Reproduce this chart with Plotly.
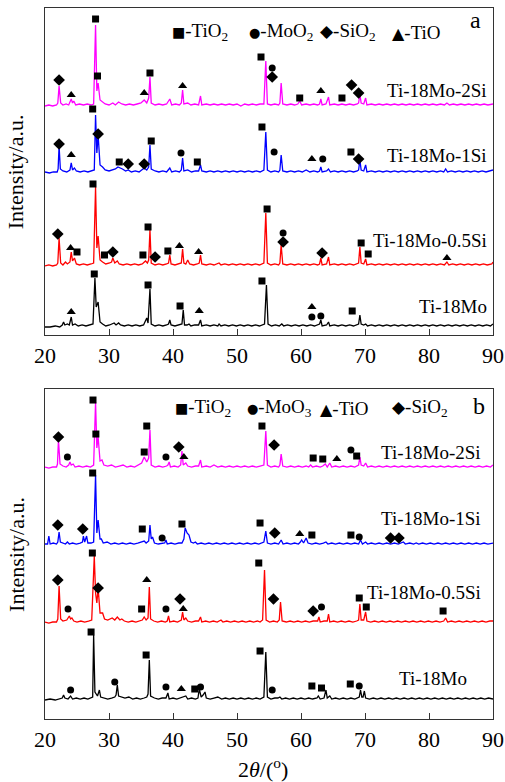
import plotly.graph_objects as go

# ---------------- data: XRD patterns (2theta, intensity a.u. above own baseline) ----------------
A_2SI = [(20.0,0),(20.6,1),(21.2,0),(21.8,1),(22.0,3),(22.2,20),(22.45,3),(22.8,1),(23.3,2),(23.7,1),(24.1,7),(24.3,3),(24.5,5),(24.8,1),(25.4,2),(26.0,1),(26.6,2),(27.2,1),(27.6,2),(27.9,81),(28.1,15),(28.3,23),(28.6,6),(29.0,4),(29.4,2),(30.0,1),(30.6,3),(31.0,1),(31.5,4),(32.0,2),(32.6,1),(33.2,2),(33.8,1),(34.4,2),(35.0,3),(35.5,6),(35.9,3),(36.2,8),(36.4,29),(36.6,3),(37.2,1),(37.8,2),(38.4,1),(39.0,2),(39.5,7),(39.8,1),(40.4,2),(41.0,1),(41.3,3),(41.5,16),(41.7,2),(42.3,3),(42.8,1),(43.4,2),(44.0,1),(44.3,10),(44.5,1),(45.2,2),(45.8,1),(46.4,2),(47.0,1),(47.6,2),(48.2,1),(48.8,2),(49.4,1),(50.0,2),(50.6,0),(51.2,2),(51.8,1),(52.4,2),(53.0,1),(53.6,2),(54.2,2),(54.5,45),(54.75,2),(55.3,1),(55.9,2),(56.5,1),(56.7,3),(56.9,23),(57.15,2),(57.8,1),(58.4,2),(59.0,1),(59.5,2),(59.8,5),(60.1,1),(60.8,2),(61.4,1),(62.0,2),(62.6,1),(62.9,2),(63.1,7),(63.3,1),(63.9,2),(64.3,9),(64.5,1),(65.2,2),(65.8,1),(66.4,2),(67.0,1),(67.6,2),(68.2,1),(68.8,2),(69.0,3),(69.2,12),(69.4,3),(69.8,2),(70.1,8),(70.3,1),(71.0,2),(71.6,1),(72.2,2),(72.8,1),(73.4,2),(74.0,1),(74.6,2),(75.2,1),(75.8,2),(76.4,1),(77.0,2),(77.6,1),(78.2,2),(78.8,1),(79.4,2),(80.0,1),(80.6,2),(81.2,1),(81.8,2),(82.4,1),(82.8,3),(83.2,1),(83.8,2),(84.4,1),(85.0,2),(85.6,1),(86.2,2),(86.8,1),(87.4,2),(88.0,1),(88.6,2),(89.2,1),(90.0,2)]

A_1SI = [(20.0,1),(20.7,0),(21.3,1),(21.9,1),(22.05,4),(22.2,27),(22.4,4),(22.8,2),(23.4,1),(23.9,3),(24.1,10),(24.3,3),(24.6,5),(24.9,2),(25.5,1),(26.1,2),(26.7,1),(27.3,2),(27.7,3),(27.9,58),(28.1,20),(28.3,38),(28.6,8),(29.0,6),(29.4,3),(30.0,2),(30.6,3),(31.0,4),(31.4,6),(31.8,5),(32.1,4),(32.6,2),(33.0,3),(33.5,1),(34.1,2),(34.7,1),(35.2,3),(35.5,5),(35.9,3),(36.2,6),(36.4,28),(36.6,4),(37.2,2),(37.8,1),(38.4,2),(39.0,1),(39.5,5),(39.8,1),(40.4,2),(41.0,1),(41.3,3),(41.5,15),(41.7,2),(42.3,3),(42.9,1),(43.5,2),(44.0,2),(44.3,8),(44.5,2),(45.2,1),(45.8,2),(46.4,1),(47.0,2),(47.6,1),(48.2,2),(48.8,1),(49.4,2),(50.0,1),(50.6,2),(51.2,1),(51.8,2),(52.4,1),(53.0,2),(53.6,1),(54.2,3),(54.5,41),(54.75,3),(55.3,1),(55.9,2),(56.5,1),(56.7,3),(56.9,18),(57.15,2),(57.8,1),(58.4,2),(59.0,1),(59.6,2),(60.2,1),(60.8,3),(61.4,1),(62.0,2),(62.6,1),(62.9,2),(63.1,6),(63.3,1),(64.0,2),(64.3,4),(64.6,1),(65.2,2),(65.8,1),(66.4,2),(67.0,1),(67.6,2),(68.2,1),(68.8,2),(69.0,3),(69.2,13),(69.4,3),(69.8,2),(70.1,8),(70.3,1),(71.0,2),(71.6,1),(72.2,2),(72.8,1),(73.4,2),(74.0,1),(74.6,2),(75.2,1),(75.8,2),(76.4,1),(77.0,2),(77.6,1),(78.2,2),(78.8,1),(79.4,2),(80.0,1),(80.6,2),(81.2,1),(81.8,2),(82.3,1),(82.6,4),(82.9,1),(83.5,2),(84.1,1),(84.7,2),(85.3,1),(85.9,2),(86.5,1),(87.1,2),(87.7,1),(88.3,2),(88.9,1),(89.5,2),(90.0,3)]

A_05SI = [(20.0,0),(20.6,1),(21.2,0),(21.8,1),(22.0,3),(22.2,28),(22.45,3),(22.8,1),(23.2,4),(23.5,2),(23.9,4),(24.1,14),(24.3,5),(24.6,8),(24.9,2),(25.4,1),(26.0,2),(26.6,1),(27.2,2),(27.6,3),(27.9,79),(28.1,18),(28.3,30),(28.6,6),(29.0,4),(29.5,2),(30.1,3),(30.4,4),(30.6,8),(30.9,3),(31.3,5),(31.6,2),(32.2,1),(32.8,2),(33.4,1),(34.0,2),(34.6,1),(35.2,2),(35.7,5),(36.0,3),(36.2,6),(36.4,36),(36.6,3),(37.2,1),(37.8,2),(38.4,1),(39.0,2),(39.3,3),(39.5,11),(39.7,2),(40.3,1),(40.9,2),(41.3,3),(41.5,17),(41.7,3),(42.0,2),(42.3,6),(42.6,2),(43.2,1),(43.8,2),(44.1,3),(44.3,11),(44.5,2),(45.2,1),(45.8,2),(46.4,1),(47.0,2),(47.2,3),(47.5,1),(48.1,2),(48.7,1),(49.3,2),(49.9,1),(50.5,2),(51.1,1),(51.7,2),(52.3,1),(52.9,2),(53.5,1),(54.2,3),(54.5,53),(54.75,3),(55.3,1),(55.9,2),(56.5,1),(56.7,3),(56.9,21),(57.15,2),(57.8,1),(58.4,2),(59.0,1),(59.6,2),(60.2,1),(60.8,2),(61.4,1),(62.0,2),(62.6,1),(62.9,2),(63.1,8),(63.3,1),(64.0,2),(64.3,9),(64.5,1),(65.2,2),(65.8,1),(66.4,2),(67.0,1),(67.6,2),(68.2,1),(68.8,2),(69.0,3),(69.2,19),(69.4,3),(69.8,2),(70.1,7),(70.3,1),(71.0,2),(71.6,1),(72.2,2),(72.8,1),(73.4,2),(74.0,1),(74.6,2),(75.2,1),(75.8,2),(76.4,1),(77.0,2),(77.6,1),(78.2,2),(78.8,1),(79.4,2),(80.0,1),(80.6,2),(81.2,1),(81.8,2),(82.4,1),(82.8,4),(83.1,1),(83.7,2),(84.3,1),(84.9,2),(85.5,1),(86.1,2),(86.7,1),(87.3,2),(87.9,1),(88.5,2),(89.1,1),(89.8,2),(90.0,4)]

A_0SI = [(20.0,0),(20.8,0),(21.6,1),(22.3,0),(22.7,2),(22.9,5),(23.1,2),(23.5,3),(23.8,2),(24.1,10),(24.3,2),(24.7,3),(25.2,1),(25.8,2),(26.4,1),(27.0,2),(27.5,3),(27.8,49),(28.0,20),(28.3,25),(28.6,5),(29.0,3),(29.5,1),(30.1,2),(30.6,3),(30.8,4),(31.1,2),(31.5,4),(31.8,2),(32.4,1),(33.0,2),(33.6,1),(34.2,2),(34.8,1),(35.4,2),(35.9,9),(36.1,4),(36.4,38),(36.6,3),(37.2,1),(37.8,2),(38.4,1),(39.0,2),(39.3,3),(39.5,7),(39.7,2),(40.3,1),(40.9,2),(41.4,3),(41.6,17),(41.8,2),(42.2,2),(42.5,3),(42.8,1),(43.4,2),(44.0,2),(44.3,7),(44.5,1),(45.2,2),(45.8,1),(46.4,2),(47.0,1),(47.2,3),(47.5,1),(48.1,2),(48.7,1),(49.3,2),(49.9,1),(50.5,2),(51.1,1),(51.7,2),(52.3,1),(52.9,2),(53.5,1),(54.3,3),(54.6,42),(54.85,3),(55.4,1),(56.0,2),(56.6,1),(57.0,3),(57.3,1),(57.9,2),(58.5,1),(59.1,2),(59.7,1),(60.3,2),(60.9,1),(61.5,2),(62.1,1),(62.7,2),(62.9,3),(63.1,7),(63.3,1),(64.0,2),(64.3,5),(64.5,1),(65.2,2),(65.8,1),(66.4,2),(67.0,1),(67.6,2),(68.2,1),(68.8,2),(69.0,3),(69.2,12),(69.4,3),(69.8,2),(70.1,3),(70.4,1),(71.0,2),(71.6,1),(72.2,2),(72.8,1),(73.4,2),(74.0,1),(74.6,2),(75.2,1),(75.8,2),(76.4,1),(77.0,2),(77.6,1),(78.2,2),(78.8,1),(79.4,2),(80.0,1),(80.6,2),(81.2,1),(81.8,2),(82.4,1),(83.0,2),(83.6,1),(84.2,2),(84.8,1),(85.4,2),(86.0,1),(86.6,2),(87.2,1),(87.8,2),(88.4,1),(89.0,2),(89.6,1),(90.0,3)]

B_2SI = [(20.0,1),(20.6,0),(21.2,1),(21.8,1),(21.95,4),(22.1,28),(22.35,4),(22.8,2),(23.3,1),(23.7,3),(23.9,6),(24.1,3),(24.4,4),(24.7,1),(25.3,2),(25.9,1),(26.5,2),(27.1,1),(27.6,3),(27.9,66),(28.1,20),(28.3,31),(28.6,7),(28.9,8),(29.2,3),(29.8,2),(30.4,3),(31.0,1),(31.6,2),(32.2,3),(32.8,1),(33.4,2),(34.0,1),(34.6,3),(35.1,5),(35.5,11),(35.9,6),(36.2,10),(36.4,38),(36.6,3),(37.2,1),(37.8,2),(38.4,1),(39.0,2),(39.2,3),(39.4,6),(39.6,1),(40.2,2),(40.8,1),(41.2,3),(41.4,17),(41.6,3),(42.0,5),(42.3,2),(42.9,1),(43.5,2),(44.0,2),(44.3,8),(44.5,1),(45.2,2),(45.8,1),(46.4,3),(47.0,1),(47.6,2),(48.2,1),(48.8,2),(49.4,1),(50.0,2),(50.6,1),(51.2,2),(51.8,1),(52.4,2),(53.0,1),(53.6,2),(54.2,3),(54.5,37),(54.75,3),(55.3,1),(55.9,2),(56.5,1),(56.7,3),(56.9,14),(57.15,2),(57.8,1),(58.4,2),(59.0,1),(59.6,2),(60.2,1),(60.8,2),(61.2,1),(61.5,3),(61.8,1),(62.4,2),(63.0,1),(63.4,2),(63.8,4),(64.1,1),(64.5,5),(64.8,1),(65.4,2),(66.0,1),(66.6,2),(67.2,1),(67.8,2),(68.4,1),(69.0,3),(69.2,11),(69.4,3),(69.8,2),(70.1,5),(70.4,1),(71.0,2),(71.6,1),(72.2,2),(72.8,1),(73.4,2),(74.0,1),(74.6,2),(75.2,1),(75.8,2),(76.4,1),(77.0,2),(77.6,1),(78.2,2),(78.8,1),(79.4,2),(80.0,1),(80.6,2),(81.2,1),(81.8,2),(82.4,1),(83.0,2),(83.6,1),(84.2,2),(84.8,1),(85.4,2),(86.0,1),(86.6,2),(87.2,1),(87.8,2),(88.4,1),(89.0,2),(89.6,1),(90.0,3)]

B_1SI = [(20.0,1),(20.4,1),(20.6,9),(20.8,1),(21.3,2),(21.8,1),(22.0,3),(22.2,13),(22.4,3),(22.8,2),(23.2,1),(23.5,3),(23.8,1),(24.3,2),(24.9,1),(25.5,2),(25.85,3),(26.0,9),(26.2,3),(26.5,9),(26.7,2),(27.2,2),(27.6,3),(27.9,70),(28.1,12),(28.3,25),(28.6,6),(28.8,6),(29.1,2),(29.7,3),(30.3,1),(30.9,2),(31.5,1),(32.1,2),(32.7,1),(33.3,2),(33.9,1),(34.5,2),(35.1,3),(35.5,4),(35.8,2),(36.2,4),(36.4,20),(36.6,6),(36.8,8),(37.1,2),(37.7,1),(38.3,2),(38.7,2),(38.9,5),(39.1,1),(39.7,2),(40.3,1),(40.9,2),(41.4,2),(41.7,6),(41.9,17),(42.2,12),(42.5,10),(42.8,3),(43.2,2),(43.5,3),(43.8,1),(44.4,2),(45.0,1),(45.6,2),(46.2,1),(46.8,2),(47.4,1),(48.0,2),(48.6,1),(49.2,2),(49.8,1),(50.4,2),(51.0,1),(51.6,2),(52.2,1),(52.8,2),(53.4,1),(54.2,3),(54.5,14),(54.75,2),(55.3,1),(55.9,2),(56.5,1),(56.9,5),(57.2,1),(57.8,2),(58.4,1),(59.0,2),(59.6,1),(59.9,3),(60.1,5),(60.4,2),(60.8,7),(61.1,2),(61.7,1),(62.3,2),(62.9,1),(63.5,2),(63.9,3),(64.2,1),(64.8,2),(65.4,1),(66.0,2),(66.6,1),(67.2,2),(67.8,1),(68.4,2),(69.0,1),(69.3,5),(69.6,1),(70.1,3),(70.4,1),(71.0,2),(71.6,1),(72.2,2),(72.8,1),(73.4,2),(74.0,1),(74.6,2),(75.2,1),(75.8,2),(76.0,3),(76.3,1),(77.0,2),(77.6,1),(78.0,2),(78.4,1),(79.0,2),(79.6,1),(80.2,2),(80.8,1),(81.4,2),(82.0,1),(82.6,2),(83.2,1),(83.8,2),(84.4,1),(85.0,2),(85.6,1),(86.2,2),(86.8,1),(87.4,2),(88.0,1),(88.6,2),(89.2,1),(90.0,2)]

B_05SI = [(20.0,1),(20.6,0),(21.2,1),(21.8,1),(22.0,4),(22.2,37),(22.45,4),(22.8,2),(23.4,3),(23.8,7),(24.0,4),(24.2,5),(24.5,2),(25.0,1),(25.6,2),(26.2,1),(26.8,2),(27.3,3),(27.7,67),(27.9,30),(28.1,20),(28.3,35),(28.6,10),(29.0,10),(29.3,4),(29.8,3),(30.5,5),(30.9,3),(31.3,6),(31.7,3),(32.0,4),(32.4,2),(33.0,1),(33.6,2),(34.2,1),(34.8,2),(35.2,3),(35.5,6),(35.8,3),(36.1,5),(36.3,36),(36.5,4),(37.0,2),(37.6,1),(38.2,2),(38.8,1),(39.1,2),(39.3,7),(39.5,1),(40.1,2),(40.7,1),(41.3,3),(41.5,11),(41.7,3),(42.0,5),(42.3,2),(42.9,1),(43.5,2),(44.0,2),(44.3,6),(44.5,1),(45.1,2),(45.7,1),(46.3,2),(46.9,1),(47.5,3),(47.8,1),(48.4,2),(49.0,1),(49.6,2),(50.2,1),(50.8,2),(51.4,1),(52.0,2),(52.6,1),(53.2,2),(53.6,1),(54.0,3),(54.3,53),(54.55,3),(55.1,1),(55.7,2),(56.3,1),(56.6,3),(56.8,21),(57.05,2),(57.7,1),(58.3,2),(58.9,1),(59.5,2),(60.1,1),(60.7,2),(61.3,1),(61.9,2),(62.6,2),(62.8,6),(63.0,1),(63.6,2),(64.1,2),(64.3,9),(64.5,1),(65.1,2),(65.7,1),(66.3,2),(66.9,1),(67.5,2),(68.1,1),(68.7,2),(69.0,3),(69.2,19),(69.4,3),(69.8,3),(70.1,11),(70.3,2),(70.9,1),(71.5,2),(72.1,1),(72.7,2),(73.3,1),(73.9,2),(74.5,1),(75.1,2),(75.7,1),(76.3,2),(76.9,1),(77.5,2),(78.1,1),(78.7,2),(79.3,1),(79.9,2),(80.5,1),(81.1,2),(81.7,1),(82.3,2),(82.6,5),(82.9,1),(83.5,2),(84.1,1),(84.7,2),(85.3,1),(85.9,2),(86.5,1),(87.1,2),(87.7,1),(88.3,2),(88.9,1),(89.5,2),(90.0,2)]

B_0SI = [(20.0,0),(20.8,1),(21.6,0),(22.3,1),(22.7,2),(22.9,5),(23.1,2),(23.6,1),(24.0,4),(24.3,1),(24.9,2),(25.5,1),(26.1,2),(26.7,1),(27.3,2),(27.45,3),(27.6,65),(27.8,8),(28.2,4),(28.5,10),(28.7,3),(29.2,2),(29.8,1),(30.4,2),(30.9,3),(31.1,5),(31.3,15),(31.5,4),(31.9,3),(32.5,2),(33.1,3),(33.7,1),(34.3,2),(34.9,1),(35.5,2),(35.9,3),(36.1,6),(36.3,40),(36.5,4),(37.1,2),(37.7,1),(38.3,2),(38.9,2),(39.2,7),(39.4,1),(40.0,2),(40.6,1),(41.2,2),(41.7,3),(42.0,4),(42.3,1),(42.9,2),(43.5,1),(43.9,2),(44.1,11),(44.4,3),(44.7,5),(45.0,8),(45.2,2),(45.8,1),(46.4,2),(47.0,3),(47.6,1),(48.2,2),(48.8,1),(49.4,2),(50.0,1),(50.6,2),(51.2,1),(51.8,2),(52.4,1),(53.0,2),(53.6,1),(54.2,3),(54.5,48),(54.75,3),(55.3,1),(55.9,2),(56.4,2),(56.7,3),(57.0,1),(57.6,2),(58.2,1),(58.8,2),(59.4,1),(60.0,2),(60.6,1),(61.2,2),(61.8,1),(62.5,2),(62.7,4),(63.0,1),(63.6,2),(63.9,10),(64.1,2),(64.5,4),(64.8,1),(65.4,2),(66.0,1),(66.6,2),(67.2,1),(67.8,2),(68.4,1),(69.1,3),(69.3,10),(69.5,3),(69.7,3),(69.9,9),(70.1,2),(70.7,1),(71.3,2),(71.9,1),(72.5,2),(73.1,1),(73.7,2),(74.3,1),(74.9,2),(75.5,1),(76.1,2),(76.7,1),(77.3,2),(77.9,1),(78.5,2),(79.1,1),(79.7,2),(80.3,1),(80.9,2),(81.5,1),(82.1,2),(82.7,1),(83.3,2),(83.9,1),(84.5,2),(85.1,1),(85.7,2),(86.3,1),(86.9,2),(87.5,1),(88.1,2),(88.7,1),(89.3,2),(90.0,1)]

# ---------------- data: phase markers (2theta, height above own baseline) ----------------
A_MARKS = {
    "Ti-18Mo-2Si": {"TiO2": [(27.9,87),(28.2,30),(36.4,33),(53.75,49),(59.8,8),(66.4,8)],
                    "MoO2": [(55.5,38)],
                    "SiO2": [(22.2,26),(55.5,29),(67.9,21),(69.0,13)],
                    "TiO":  [(24.1,11),(35.5,13),(41.5,20),(63.1,15)]},
    "Ti-18Mo-1Si": {"TiO2": [(27.45,64),(31.6,11),(36.6,32),(43.8,11),(53.9,46),(67.8,21)],
                    "MoO2": [(41.25,20),(55.8,21),(63.4,14)],
                    "SiO2": [(22.2,29),(28.3,39),(33.0,9),(35.5,9),(69.0,14)],
                    "TiO":  [(24.1,18),(61.7,14)]},
    "Ti-18Mo-0.5Si": {"TiO2": [(27.5,82),(25.0,14),(29.3,11),(35.3,11),(36.1,39),(39.2,15),(54.7,57),(69.4,23),(70.5,12)],
                      "MoO2": [(57.2,33)],
                      "SiO2": [(22.0,32),(30.6,14),(37.2,9),(57.2,24),(63.3,13)],
                      "TiO":  [(24.0,18),(41.0,20),(44.0,14),(82.8,8)]},
    "Ti-18Mo": {"TiO2": [(27.7,53),(36.1,42),(41.1,21),(53.9,46),(68.0,16)],
                "MoO2": [(61.7,10),(63.1,11)],
                "SiO2": [],
                "TiO":  [(24.1,15),(44.1,16),(61.7,20)]},
}
B_MARKS = {
    "Ti-18Mo-2Si": {"TiO2": [(27.5,68),(27.95,34),(35.5,16),(35.9,42),(53.9,42),(61.9,10),(63.4,9),(68.7,12)],
                    "MoO3": [(23.5,11),(38.9,11),(67.8,18)],
                    "TiO":  [(41.7,11),(65.6,9)],
                    "SiO2": [(22.1,31),(40.9,21),(55.8,23)]},
    "Ti-18Mo-1Si": {"TiO2": [(27.45,72),(35.2,16),(41.4,21),(53.6,22),(61.7,10),(67.8,10)],
                    "MoO3": [(38.3,7),(69.1,8)],
                    "TiO":  [(59.8,11)],
                    "SiO2": [(22.0,20),(25.9,16),(55.9,12),(74.0,7),(75.3,7)]},
    "Ti-18Mo-0.5Si": {"TiO2": [(27.4,70),(35.1,14),(53.4,60),(69.1,25),(70.2,16),(82.2,12)],
                      "MoO3": [(23.6,14),(38.9,14),(63.2,16)],
                      "TiO":  [(35.9,43),(41.6,14)],
                      "SiO2": [(22.0,43),(28.3,35),(41.1,24),(55.7,24),(61.9,12)]},
    "Ti-18Mo": {"TiO2": [(27.2,68),(35.8,45),(43.4,11),(53.6,49),(61.7,14),(63.2,12),(67.7,16)],
                "MoO3": [(24.0,10),(30.9,18),(38.9,13),(44.3,13),(55.5,10),(69.1,14)],
                "TiO":  [(41.3,11)],
                "SiO2": []},
}

SAMPLES = ["Ti-18Mo-2Si", "Ti-18Mo-1Si", "Ti-18Mo-0.5Si", "Ti-18Mo"]
A_SERIES = [A_2SI, A_1SI, A_05SI, A_0SI]
B_SERIES = [B_2SI, B_1SI, B_05SI, B_0SI]
X_TICKS = [20, 30, 40, 50, 60, 70, 80, 90]
A_LEGEND = [("■", "TiO<sub>2</sub>"), ("●", "MoO<sub>2</sub>"), ("◆", "SiO<sub>2</sub>"), ("▲", "TiO")]
B_LEGEND = [("■", "TiO<sub>2</sub>"), ("●", "MoO<sub>3</sub>"), ("▲", "TiO"), ("◆", "SiO<sub>2</sub>")]

# ---------------- styles / positions ----------------
COLORS = ["#FF00FF", "#0000FF", "#FF0000", "#000000"]
A_OFFSETS = [229, 162, 69, 8]
B_OFFSETS = [251, 174, 96, 19]
SYMBOLS = {"TiO2": ("square", 7), "MoO2": ("circle", 7), "MoO3": ("circle", 7),
           "SiO2": ("diamond", 9), "TiO": ("triangle-up", 8)}
GLYPH_SIZE = {"■": 14, "●": 13, "◆": 17, "▲": 16}
A_LEGEND_X = [39.5, 51.6, 62.6, 73.9]
B_LEGEND_X = [40.0, 51.3, 62.7, 73.9]
FONT = "Liberation Serif, Times New Roman, serif"

fig = go.Figure()

def add_panel(series, marks, offsets, xa, ya):
    for name, data, off, col in zip(SAMPLES, series, offsets, COLORS):
        fig.add_trace(go.Scatter(x=[p[0] for p in data], y=[p[1] + off for p in data],
                                 mode="lines", line=dict(color=col, width=1.3),
                                 xaxis=xa, yaxis=ya, showlegend=False, hoverinfo="skip"))
        for phase, pts in marks[name].items():
            if not pts:
                continue
            sym, sz = SYMBOLS[phase]
            fig.add_trace(go.Scatter(x=[p[0] for p in pts], y=[p[1] + off for p in pts],
                                     mode="markers", marker=dict(symbol=sym, size=sz, color="black",
                                                                 line=dict(width=0)),
                                     xaxis=xa, yaxis=ya, showlegend=False, hoverinfo="skip"))

add_panel(A_SERIES, A_MARKS, A_OFFSETS, "x", "y")
add_panel(B_SERIES, B_MARKS, B_OFFSETS, "x2", "y2")

ann = []
label_pos_a = [(89.3, 245), (89.3, 180), (89.3, 94), (89.3, 28)]
label_pos_b = [(88.4, 267), (88.4, 201), (88.4, 127), (86.3, 41)]
for s, (x, y) in zip(SAMPLES, label_pos_a):
    ann.append(dict(x=x, y=y, xref="x", yref="y", text=s, showarrow=False, xanchor="right",
                    yanchor="middle", font=dict(family=FONT, size=19, color="black")))
for s, (x, y) in zip(SAMPLES, label_pos_b):
    ann.append(dict(x=x, y=y, xref="x2", yref="y2", text=s, showarrow=False, xanchor="right",
                    yanchor="middle", font=dict(family=FONT, size=19, color="black")))

for items, xs, xr, yr, yv in [(A_LEGEND, A_LEGEND_X, "x", "y", 303), (B_LEGEND, B_LEGEND_X, "x2", "y2", 311)]:
    for (g, t), xv in zip(items, xs):
        ann.append(dict(x=xv, y=yv, xref=xr, yref=yr, showarrow=False, xanchor="left", yanchor="middle",
                        text='<span style="font-family:DejaVu Sans;font-size:%dpx">%s</span>-%s'
                             % (GLYPH_SIZE[g], g, t),
                        font=dict(family=FONT, size=19, color="black")))

ann.append(dict(x=87.2, y=315, xref="x", yref="y", text="a", showarrow=False,
                font=dict(family=FONT, size=24, color="black")))
ann.append(dict(x=87.8, y=313, xref="x2", yref="y2", text="b", showarrow=False,
                font=dict(family=FONT, size=24, color="black")))

for yc in [(1 + 0.5401) / 2, 0.4641 / 2]:
    ann.append(dict(x=-0.065, y=yc, xref="paper", yref="paper", text="Intensity/a.u.",
                    textangle=-90, showarrow=False, xanchor="center", yanchor="middle",
                    font=dict(family=FONT, size=22, color="black")))
ann.append(dict(x=0.487, y=-0.069, xref="paper", yref="paper", text="2<i>θ</i>/(<sup>o</sup>)",
                showarrow=False, xanchor="center", yanchor="middle",
                font=dict(family=FONT, size=22, color="black")))

xcommon = dict(range=[20, 90], tickmode="array", tickvals=X_TICKS, ticks="inside", ticklen=6,
               tickwidth=1, tickcolor="#333", showline=True, linecolor="#333", linewidth=1.3,
               mirror=True, showgrid=False, zeroline=False,
               tickfont=dict(family=FONT, size=22, color="black"))
ycommon = dict(showline=True, linecolor="#333", linewidth=1.3, mirror=True, showgrid=False,
               zeroline=False, showticklabels=False, ticks="")

fig.update_layout(
    width=505, height=782, margin=dict(l=45, r=12, t=8, b=63, autoexpand=False),
    paper_bgcolor="white", plot_bgcolor="white",
    xaxis=dict(anchor="y", domain=[0, 1], automargin=False, **xcommon),
    yaxis=dict(anchor="x", domain=[0.5401, 1], range=[0, 327], automargin=False, **ycommon),
    xaxis2=dict(anchor="y2", domain=[0, 1], automargin=False, **xcommon),
    yaxis2=dict(anchor="x2", domain=[0, 0.4641], range=[0, 330], automargin=False, **ycommon),
    annotations=ann, showlegend=False,
)

fig.write_html("out.html", config={"displayModeBar": False},
               post_script="document.body.style.margin='0';document.body.style.overflow='hidden';")
